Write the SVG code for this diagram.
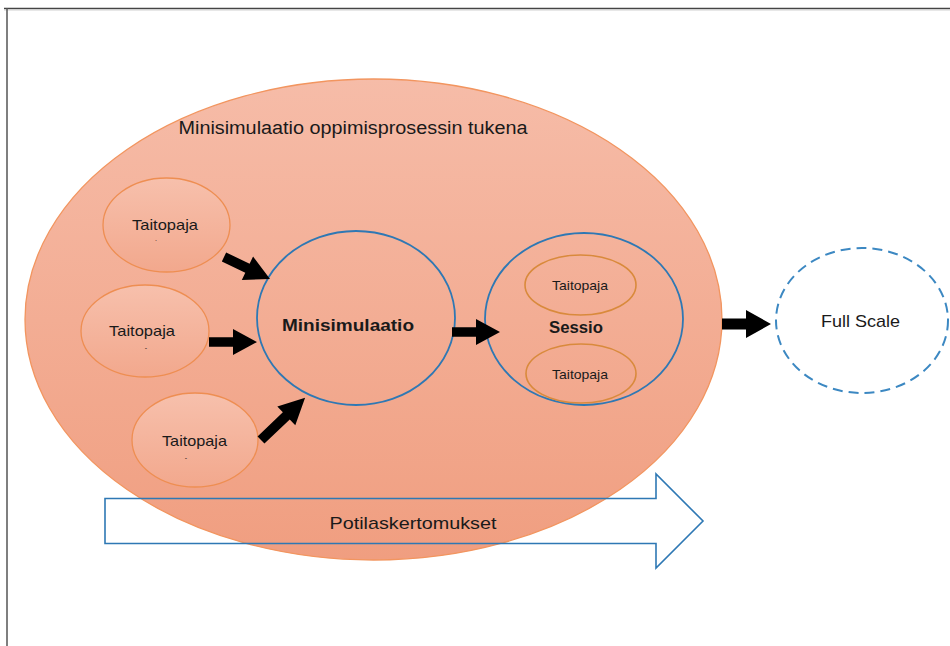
<svg xmlns="http://www.w3.org/2000/svg" xmlns:xlink="http://www.w3.org/1999/xlink" width="950" height="646" viewBox="0 0 950 646">
<style>
  text { font-family: "Liberation Sans", Arial, sans-serif; fill: #1a1a1a; }
  .small-ell { fill: url(#gSmall); stroke: #EE8E52; stroke-width: 1.3; }
  .inner-ell { fill: none; stroke: #D98A3C; stroke-width: 1.6; }
  .blue-circ { fill: none; stroke: #2E78B4; stroke-width: 1.8; }
  .blk { fill: #000; }
  .tp { font-size: 14.5px; text-anchor: middle; }
  .tps { font-size: 13px; text-anchor: middle; }
  .bold { font-weight: bold; font-size: 17px; text-anchor: middle; }
</style>
<defs>
  <linearGradient id="gMain" x1="0" y1="0" x2="0" y2="1">
    <stop offset="0" stop-color="#F6BCA8"/>
    <stop offset="1" stop-color="#F09E80"/>
  </linearGradient>
  <linearGradient id="gSmall" x1="0" y1="0" x2="0" y2="1">
    <stop offset="0" stop-color="#F7C0AC"/>
    <stop offset="1" stop-color="#F2A88D"/>
  </linearGradient>
  <polygon id="arr48" points="0,-4.8 24,-4.8 24,-13 48,0 24,13 24,4.8 0,4.8"/>
  <polygon id="arr51" points="0,-5 26,-5 26,-13 51,0 26,13 26,5 0,5"/>
  <polygon id="arr61" points="0,-5 35,-5 35,-13 61,0 35,13 35,5 0,5"/>
</defs>

<rect x="0" y="0" width="950" height="646" fill="#ffffff"/>

<g id="frame">
  <line x1="4" y1="8.5" x2="950" y2="8.5" stroke="#444" stroke-width="1.5"/>
  <line x1="4" y1="10" x2="950" y2="10" stroke="#d0d0d0" stroke-width="1"/>
  <line x1="7" y1="8" x2="7" y2="646" stroke="#555" stroke-width="1.5"/>
</g>

<g id="main">
  <ellipse cx="373.5" cy="319.5" rx="348.5" ry="240.5" fill="url(#gMain)" stroke="#F2955F" stroke-width="1.3"/>
  <text x="353" y="134" style="font-size:18px" textLength="349" lengthAdjust="spacingAndGlyphs" text-anchor="middle">Minisimulaatio oppimisprosessin tukena</text>
</g>

<g id="potilaskertomukset">
  <polygon points="105,498.5 656,498.5 656,474 703,521 656,568 656,543.5 105,543.5" fill="none" stroke="#2E78B4" stroke-width="1.6"/>
  <text x="413" y="529" style="font-size:17px" textLength="167" lengthAdjust="spacingAndGlyphs" text-anchor="middle">Potilaskertomukset</text>
</g>

<g id="taitopaja1">
  <ellipse class="small-ell" cx="166.5" cy="225" rx="63.5" ry="47"/>
  <text class="tp" x="165" y="230" textLength="66" lengthAdjust="spacingAndGlyphs">Taitopaja</text>
  <text x="156" y="241" style="font-size:7px" text-anchor="middle">.</text>
</g>

<g id="taitopaja2">
  <ellipse class="small-ell" cx="145" cy="331" rx="64" ry="46"/>
  <text class="tp" x="142" y="336" textLength="66" lengthAdjust="spacingAndGlyphs">Taitopaja</text>
  <text x="146" y="350" style="font-size:7px" text-anchor="middle">-</text>
</g>

<g id="taitopaja3">
  <ellipse class="small-ell" cx="195" cy="440" rx="63" ry="47"/>
  <text class="tp" x="194.5" y="446" textLength="65" lengthAdjust="spacingAndGlyphs">Taitopaja</text>
  <text x="186" y="460" style="font-size:7px" text-anchor="middle">-</text>
</g>

<g id="minisimulaatio">
  <ellipse class="blue-circ" cx="356" cy="318" rx="99" ry="87"/>
  <text class="bold" x="348" y="331" textLength="132" lengthAdjust="spacingAndGlyphs">Minisimulaatio</text>
</g>

<g id="sessio">
  <ellipse class="blue-circ" cx="584" cy="319" rx="99" ry="86"/>
  <text class="bold" x="576" y="333" textLength="54" lengthAdjust="spacingAndGlyphs">Sessio</text>
  <ellipse class="inner-ell" cx="580.5" cy="285" rx="55.5" ry="30"/>
  <text class="tps" x="580" y="289.5" textLength="56" lengthAdjust="spacingAndGlyphs">Taitopaja</text>
  <ellipse class="inner-ell" cx="581" cy="373.5" rx="55" ry="29.5"/>
  <text class="tps" x="580" y="378.5" textLength="56" lengthAdjust="spacingAndGlyphs">Taitopaja</text>
</g>

<g id="fullscale">
  <ellipse cx="862" cy="320.5" rx="86" ry="72.5" fill="none" stroke="#3C88C2" stroke-width="2" stroke-dasharray="10 6"/>
  <text x="860.5" y="327" style="font-size:17px" textLength="79" lengthAdjust="spacingAndGlyphs" text-anchor="middle">Full Scale</text>
</g>

<g id="connectors">
  <use xlink:href="#arr51" class="blk" transform="translate(224,257) rotate(25.6)"/>
  <use xlink:href="#arr48" class="blk" transform="translate(209,342)"/>
  <use xlink:href="#arr61" class="blk" transform="translate(261,440) rotate(-43.7)"/>
  <use xlink:href="#arr48" class="blk" transform="translate(452,332)"/>
  <polygon class="blk" points="722,318.5 746,318.5 746,310 771,324 746,338 746,329.5 722,329.5"/>
</g>
</svg>
